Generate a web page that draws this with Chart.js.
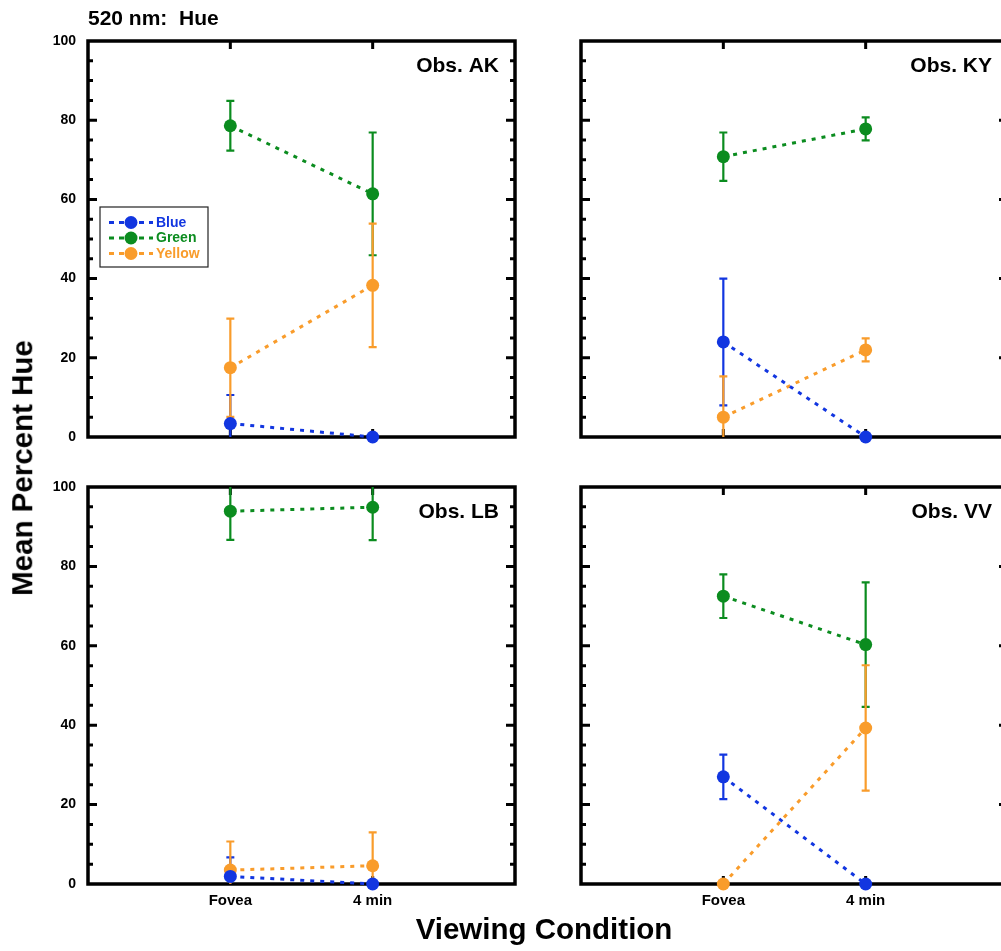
<!DOCTYPE html>
<html>
<head>
<meta charset="utf-8">
<title>520 nm: Hue</title>
<script src="https://cdn.jsdelivr.net/npm/chart.js@4.4.1/dist/chart.umd.min.js"></script>
<style>
  html, body { margin: 0; padding: 0; background: #fff; }
  #page {
    position: relative; width: 1001px; height: 951px; overflow: hidden;
    font-family: "Liberation Sans", Arial, sans-serif; font-weight: bold; color: #000;
  }
  #page canvas { position: absolute; }
  .txt { position: absolute; white-space: pre; line-height: 1; }
</style>
</head>
<body>
<div id="page">
  <canvas id="cAK" width="530" height="465" style="left:0;top:0;width:530px;height:465px"></canvas>
  <canvas id="cKY" width="530" height="465" style="left:493px;top:0;width:530px;height:465px"></canvas>
  <canvas id="cLB" width="530" height="478" style="left:0;top:446px;width:530px;height:478px"></canvas>
  <canvas id="cVV" width="530" height="478" style="left:493px;top:446px;width:530px;height:478px"></canvas>

  <div class="txt" style="left:88px;top:17px;font-size:21px;transform:translateY(-50%)">520 nm:  Hue</div>
  <div class="txt" style="left:21.5px;top:468px;font-size:29.5px;transform:translate(-50%,-50%) rotate(-90deg)">Mean Percent Hue</div>
  <div class="txt" style="left:544px;top:928.5px;font-size:29.5px;transform:translate(-50%,-50%)">Viewing Condition</div>
</div>

<script>
// ---- data ----
const conditions = ["Fovea", "4 min"];
const hues = ["Blue", "Green", "Yellow"];
const hueColors = ["#1236e0", "#0b8c1f", "#f99c2b"];
const yTicks = [0, 20, 40, 60, 80, 100];

// rows: Blue, Green, Yellow; columns: Fovea, 4 min
const akMean = [[3.4, 0], [78.6, 61.4], [17.5, 38.3]];
const akErr  = [[7.2, 0], [6.3, 15.5], [12.4, 15.6]];

const kyMean = [[24.0, 0], [70.8, 77.8], [5.0, 22.0]];
const kyErr  = [[16.0, 0], [6.1, 2.9], [10.3, 2.9]];

const lbMean = [[1.9, 0], [93.9, 94.9], [3.5, 4.6]];
const lbErr  = [[4.8, 0], [7.2, 8.3], [7.2, 8.4]];

const vvMean = [[27.0, 0], [72.5, 60.3], [0, 39.3]];
const vvErr  = [[5.6, 0], [5.5, 15.7], [0, 15.8]];

const panels = [
  { id: "cAK", obs: "Obs. AK", mean: akMean, err: akErr, yLabels: true,  xLabels: false, legend: true,  xAxisH: 28 },
  { id: "cKY", obs: "Obs. KY", mean: kyMean, err: kyErr, yLabels: false, xLabels: false, legend: false, xAxisH: 28 },
  { id: "cLB", obs: "Obs. LB", mean: lbMean, err: lbErr, yLabels: true,  xLabels: true,  legend: false, xAxisH: 40 },
  { id: "cVV", obs: "Obs. VV", mean: vvMean, err: vvErr, yLabels: false, xLabels: true,  legend: false, xAxisH: 40 },
];

const FONT = "'Liberation Sans', Arial, sans-serif";

// frame, inward ticks, error bars, observer label, legend
const panelDecor = {
  id: "panelDecor",
  beforeDatasetsDraw(chart, args, opts) {
    const { ctx, chartArea: a, scales: { x, y } } = chart;

    // frame
    ctx.save();
    ctx.strokeStyle = "#000";
    ctx.lineWidth = 3.5;
    ctx.strokeRect(a.left, a.top, a.right - a.left, a.bottom - a.top);

    // y ticks on both sides, major every 20, minor every 5
    ctx.lineWidth = 3;
    ctx.beginPath();
    for (let v = 5; v < 100; v += 5) {
      const py = y.getPixelForValue(v);
      const len = v % 20 === 0 ? 9 : 5;
      ctx.moveTo(a.left, py); ctx.lineTo(a.left + len, py);
      ctx.moveTo(a.right, py); ctx.lineTo(a.right - len, py);
    }
    // x ticks top and bottom
    conditions.forEach((c, j) => {
      const px = x.getPixelForValue(j + 1);
      ctx.moveTo(px, a.top); ctx.lineTo(px, a.top + 8);
      ctx.moveTo(px, a.bottom); ctx.lineTo(px, a.bottom - 8);
    });
    ctx.stroke();
    ctx.restore();

    // error bars
    ctx.save();
    ctx.beginPath();
    ctx.rect(a.left, a.top, a.right - a.left, a.bottom - a.top);
    ctx.clip();
    ctx.lineWidth = 2.2;
    chart.data.datasets.forEach((ds) => {
      ctx.strokeStyle = ds.borderColor;
      ds.data.forEach((pt, j) => {
        const e = ds.err[j];
        if (!e) return;
        const px = x.getPixelForValue(pt.x);
        const top = y.getPixelForValue(pt.y + e);
        const bot = y.getPixelForValue(pt.y - e);
        ctx.beginPath();
        ctx.moveTo(px, top); ctx.lineTo(px, bot);
        ctx.moveTo(px - 4, top); ctx.lineTo(px + 4, top);
        ctx.moveTo(px - 4, bot); ctx.lineTo(px + 4, bot);
        ctx.stroke();
      });
    });
    ctx.restore();
  },
  afterDraw(chart, args, opts) {
    const { ctx, chartArea: a } = chart;
    ctx.save();
    ctx.fillStyle = "#000";
    ctx.font = "bold 21px " + FONT;
    ctx.textAlign = "right";
    ctx.textBaseline = "alphabetic";
    ctx.fillText(opts.obs, a.right - 16, a.top + 31);

    if (opts.legend) {
      const bx = 100, by = 207, bw = 108, bh = 60;
      ctx.fillStyle = "#fff";
      ctx.fillRect(bx, by, bw, bh);
      ctx.strokeStyle = "#222";
      ctx.lineWidth = 1.2;
      ctx.strokeRect(bx, by, bw, bh);
      ctx.font = "bold 14px " + FONT;
      ctx.textAlign = "left";
      ctx.textBaseline = "middle";
      hues.forEach((h, i) => {
        const ry = by + 15.5 + i * 15.5;
        ctx.strokeStyle = hueColors[i];
        ctx.lineWidth = 3;
        ctx.setLineDash([5, 5]);
        ctx.beginPath();
        ctx.moveTo(bx + 9, ry); ctx.lineTo(bx + 53, ry);
        ctx.stroke();
        ctx.setLineDash([]);
        ctx.fillStyle = hueColors[i];
        ctx.beginPath();
        ctx.arc(bx + 31, ry, 6.5, 0, Math.PI * 2);
        ctx.fill();
        ctx.fillText(h, bx + 56, ry + 0.5);
      });
    }
    ctx.restore();
  },
};

function makePanel(p) {
  return new Chart(document.getElementById(p.id), {
    type: "line",
    data: {
      datasets: hues.map((h, i) => ({
        label: h,
        data: conditions.map((c, j) => ({ x: j + 1, y: p.mean[i][j] })),
        err: p.err[i],
        borderColor: hueColors[i],
        backgroundColor: hueColors[i],
        borderWidth: 3,
        borderDash: [4, 6],
        pointRadius: 6.5,
        pointBorderWidth: 0,
        pointBackgroundColor: hueColors[i],
        tension: 0,
        clip: false,
      })),
    },
    options: {
      responsive: false,
      devicePixelRatio: 1,
      animation: false,
      events: [],
      layout: { padding: { top: 41, right: 15, left: 0, bottom: 0 } },
      plugins: {
        legend: { display: false },
        tooltip: { enabled: false },
        panelDecor: { obs: p.obs, legend: p.legend },
      },
      scales: {
        x: {
          type: "linear",
          min: 0,
          max: 3,
          grid: { display: false },
          border: { display: false },
          afterBuildTicks: (s) => { s.ticks = conditions.map((c, j) => ({ value: j + 1 })); },
          afterFit: (s) => { s.height = p.xAxisH; },
          ticks: {
            display: p.xLabels,
            autoSkip: false,
            maxRotation: 0,
            padding: 0,
            color: "#000",
            font: { family: FONT, size: 15, weight: "bold" },
            callback: (v) => conditions[v - 1] ?? "",
          },
        },
        y: {
          min: 0,
          max: 100,
          grid: { display: false },
          border: { display: false },
          afterBuildTicks: (s) => { s.ticks = yTicks.map((v) => ({ value: v })); },
          afterFit: (s) => { s.width = 88; },
          ticks: {
            display: p.yLabels,
            padding: 4,
            color: "#000",
            font: { family: FONT, size: 14, weight: "bold" },
          },
        },
      },
    },
    plugins: [panelDecor],
  });
}

panels.forEach(makePanel);
</script>
</body>
</html>
